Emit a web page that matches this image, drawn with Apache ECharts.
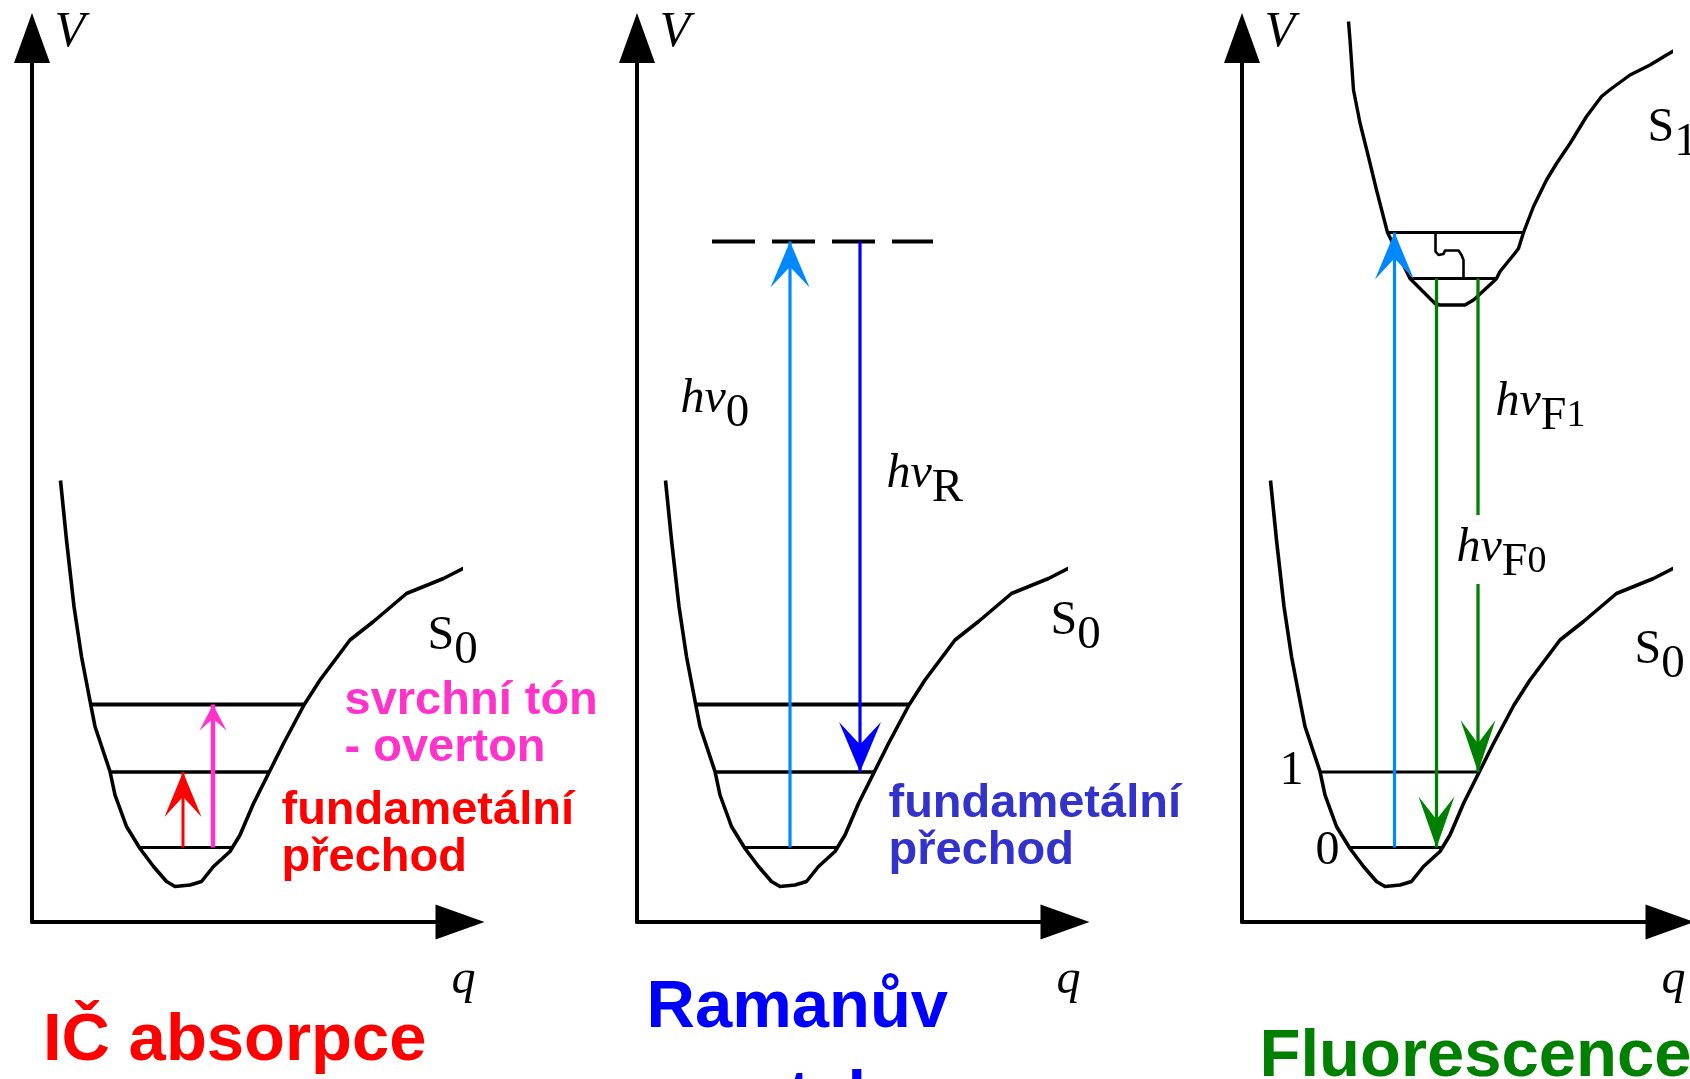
<!DOCTYPE html>
<html>
<head>
<meta charset="utf-8">
<title>IČ absorpce, Ramanův rozptyl, fluorescence</title>
<script src="https://cdn.jsdelivr.net/npm/echarts@6/dist/echarts.min.js"></script>
<style>
  html, body { margin: 0; padding: 0; background: #fff; }
  #chart { width: 1690px; height: 1079px; }
</style>
</head>
<body>
<div id="chart"></div>
<script>
// q = normal coordinate, V = potential energy (same units in all three panels)
const s0Curve = [
  [0.57, 8.83], [0.69, 7.64], [0.84, 6.31], [0.99, 5.31], [1.17, 4.37], [1.26, 3.91],
  [1.56, 3.01], [1.66, 2.54], [1.89, 1.91], [2.16, 1.47], [2.43, 1.11], [2.69, 0.81],
  [2.86, 0.71], [3.16, 0.74], [3.39, 0.81], [3.63, 1.11], [3.96, 1.41], [4.16, 1.74],
  [4.43, 2.37], [4.75, 3.01], [5.03, 3.57], [5.44, 4.34], [5.76, 4.84], [6.36, 5.64],
  [6.83, 6.01], [7.49, 6.57], [8.23, 6.87], [9.09, 7.31]
]
const s0LevelV = [1.49, 3.0, 4.35]
const s0LevelQ = [[2.15, 4.01], [1.56, 4.75], [1.17, 5.44]]

const s1Curve = [
  [2.13, 18.01], [2.16, 17.64], [2.23, 16.64], [2.36, 15.98], [2.53, 15.3], [2.69, 14.64],
  [2.91, 13.79], [3.36, 12.87], [3.86, 12.37], [3.96, 12.34], [4.46, 12.34], [4.63, 12.44],
  [5.03, 12.81], [5.09, 12.87], [5.16, 13.01], [5.43, 13.34], [5.53, 13.47], [5.63, 13.79],
  [5.83, 14.31], [6.09, 14.84], [6.29, 15.17], [6.56, 15.57], [6.89, 16.11], [7.19, 16.51],
  [7.39, 16.67], [7.76, 16.94], [8.16, 17.14], [8.49, 17.34], [8.96, 17.61]
]
const s1LevelV = [12.87, 13.79]
const s1LevelQ = [[3.36, 5.09], [2.91, 5.63]]
// vibrational relaxation inside S1
const relaxPath = [
  [3.87, 13.79], [3.87, 13.41], [3.93, 13.34], [4.03, 13.36], [4.06, 13.43],
  [4.33, 13.43], [4.39, 13.34], [4.43, 13.24], [4.43, 12.87]
]
// virtual level of the Raman scattering
const virtualLevelV = 13.61
const virtualLevelQ = [1.5, 5.92]

// transitions: [q, V from, V to]
const irArrows = [[3.02, 1.49, 3.0], [3.62, 1.49, 4.35]]
const ramanArrows = [[3.06, 1.49, 13.61], [4.46, 13.61, 3.0]]
const fluoArrows = [[3.05, 1.49, 13.79], [3.89, 12.87, 1.49], [4.72, 12.87, 3.0]]
const fluoGap = [null, null, [8.14, 6.76]]   // break in the line for the hνF0 label

const BLACK = '#000'
const SERIF = 'Liberation Serif'
const SANS = 'Liberation Sans'
const SUB = 14

const irStyle = [
  { color: '#ff0000', width: 3, head: [37, 45] },
  { color: '#ff33cc', width: 4.5, head: [27, 26] }
]
const ramanStyle = [
  { color: '#0088ff', width: 3.2, head: [39, 46] },
  { color: '#0000ff', width: 3.2, head: [42, 50] }
]
const fluoStyle = [
  { color: '#0088ff', width: 3.2, head: [39, 47] },
  { color: '#008000', width: 3.3, head: [36, 51] },
  { color: '#008000', width: 3.3, head: [35, 52] }
]

const mathRich = {
  m: { fontFamily: SERIF, fontSize: 48, color: BLACK, padding: [0, 0, SUB, 0] },
  i: { fontFamily: SERIF, fontStyle: 'italic', fontSize: 48, color: BLACK, padding: [0, 0, SUB, 0] },
  s: { fontFamily: SERIF, fontSize: 47, color: BLACK, padding: [SUB, 0, 0, 0] },
  f: { fontFamily: SERIF, fontSize: 46, color: BLACK, padding: [SUB, 0, 0, 0] },
  d: { fontFamily: SERIF, fontSize: 38, color: BLACK, padding: [SUB, 0, 0, 0] }
}
const axisName = { fontFamily: SERIF, fontStyle: 'italic', color: BLACK }
const smallSans = { fontFamily: SANS, fontWeight: 'bold', fontSize: 47, lineHeight: 47 }
const bigSans = { fontFamily: SANS, fontWeight: 'bold', fontSize: 67, lineHeight: 90 }

const notesIR = [
  { q: 0.46, v: 17.78, text: 'V', style: Object.assign({ fontSize: 50 }, axisName) },
  { q: 8.4, v: -1.18, text: 'q', style: Object.assign({ fontSize: 48 }, axisName) },
  { q: 7.92, v: 5.56, text: '{m|S}{s|0}', style: { rich: mathRich } },
  { q: 6.26, v: 4.88, top: true, text: 'svrchní tón\n- overton', style: Object.assign({ color: '#ff33cc' }, smallSans) },
  { q: 5.0, v: 2.68, top: true, text: 'fundametální\npřechod', style: Object.assign({ color: '#ff0000' }, smallSans) },
  { q: 0.23, v: -2.4, text: 'IČ absorpce', style: Object.assign({ color: '#ff0000' }, bigSans) }
]
const notesRaman = [
  { q: 0.46, v: 17.78, text: 'V', style: Object.assign({ fontSize: 50 }, axisName) },
  { q: 8.4, v: -1.18, text: 'q', style: Object.assign({ fontSize: 48 }, axisName) },
  { q: 8.28, v: 5.86, text: '{m|S}{s|0}', style: { rich: mathRich } },
  { q: 0.88, v: 10.3, text: '{i|hν}{s|0}', style: { rich: mathRich } },
  { q: 5.0, v: 8.8, text: '{i|hν}{s|R}', style: { rich: mathRich } },
  { q: 5.04, v: 2.82, top: true, text: 'fundametální\npřechod', style: Object.assign({ color: '#3333cc' }, smallSans) },
  { q: 0.2, v: -0.84, top: true, text: 'Ramanův\nrozptyl', style: Object.assign({ color: '#0000ff' }, bigSans) }
]
const notesFluo = [
  { q: 0.46, v: 17.78, text: 'V', style: Object.assign({ fontSize: 50 }, axisName) },
  { q: 8.4, v: -1.18, text: 'q', style: Object.assign({ fontSize: 48 }, axisName) },
  { q: 8.12, v: 15.72, text: '{m|S}{s|1}', style: { rich: mathRich } },
  { q: 7.86, v: 5.28, text: '{m|S}{s|0}', style: { rich: mathRich } },
  { q: 5.08, v: 10.24, text: '{i|hν}{f|F}{d|1}', style: { rich: mathRich } },
  { q: 4.3, v: 7.32, text: '{i|hν}{f|F}{d|0}', style: { rich: mathRich } },
  { q: 0.76, v: 3.0, text: '1', style: { fontFamily: SERIF, fontSize: 48, color: BLACK } },
  { q: 1.48, v: 1.4, text: '0', style: { fontFamily: SERIF, fontSize: 48, color: BLACK } },
  { q: 0.36, v: -2.72, text: 'Fluorescence', style: Object.assign({ color: '#008000' }, bigSans) }
]

const HEAD = 'path://M50,0L100,100L50,55L0,100Z'
const panels = [0, 1, 2]

function line (p, points, color, width, dash) {
  return {
    type: 'line', xAxisIndex: p, yAxisIndex: p, data: points, symbol: 'none',
    clip: false, silent: true, z: 2, animation: false,
    lineStyle: { color: color, width: width, type: dash || 'solid', cap: 'butt', join: 'round' }
  }
}

function head (p, q, v, up, color, size) {
  return {
    type: 'scatter', xAxisIndex: p, yAxisIndex: p, clip: false, silent: true, z: 4,
    data: [[q, v]], symbol: HEAD, symbolSize: size,
    symbolRotate: up ? 0 : 180, symbolOffset: [0, up ? '50%' : '-50%'],
    itemStyle: { color: color, opacity: 1 }
  }
}

function notes (p, items) {
  return {
    type: 'scatter', xAxisIndex: p, yAxisIndex: p, clip: false, silent: true, z: 5,
    symbolSize: 1, itemStyle: { color: 'rgba(0,0,0,0)', opacity: 1 },
    data: items.map(n => ({
      value: [n.q, n.v],
      label: Object.assign({
        show: true, position: [0, 0], align: 'left',
        verticalAlign: n.top ? 'top' : 'middle', formatter: n.text,
        color: BLACK, opacity: 1, textBorderWidth: 0
      }, n.style)
    }))
  }
}

const series = []

function transitions (p, list, styles, gaps) {
  list.forEach((t, k) => {
    const [q, v0, v1] = t
    const st = styles[k]
    const gap = gaps && gaps[k]
    if (gap) {
      series.push(line(p, [[q, v0], [q, gap[0]]], st.color, st.width))
      series.push(line(p, [[q, gap[1]], [q, v1]], st.color, st.width))
    } else {
      series.push(line(p, [[q, v0], [q, v1]], st.color, st.width))
    }
    series.push(head(p, q, v1, v1 > v0, st.color, st.head))
  })
}

const levelWidth = [3, 3.5, 4]

// IČ absorpce + Ramanův rozptyl: S0 with three levels
;[0, 1].forEach(p => {
  series.push(line(p, s0Curve, BLACK, 3.6))
  s0LevelV.forEach((v, k) => {
    series.push(line(p, [[s0LevelQ[k][0], v], [s0LevelQ[k][1], v]], BLACK, levelWidth[k]))
  })
})
series.push(line(1, [[virtualLevelQ[0], virtualLevelV], [virtualLevelQ[1], virtualLevelV]], BLACK, 4, [43, 17]))

// Fluorescence: S0 (levels 0, 1) and S1
series.push(line(2, s0Curve, BLACK, 3.6))
;[0, 1].forEach(k => {
  series.push(line(2, [[s0LevelQ[k][0], s0LevelV[k]], [s0LevelQ[k][1], s0LevelV[k]]], BLACK, 3.2))
})
series.push(line(2, s1Curve, BLACK, 3.4))
s1LevelV.forEach((v, k) => {
  series.push(line(2, [[s1LevelQ[k][0], v], [s1LevelQ[k][1], v]], BLACK, 3.2))
})
series.push(line(2, relaxPath, BLACK, 2.6))

transitions(0, irArrows, irStyle)
transitions(1, ramanArrows, ramanStyle)
transitions(2, fluoArrows, fluoStyle, fluoGap)

series.push(notes(0, notesIR))
series.push(notes(1, notesRaman))
series.push(notes(2, notesFluo))

function axis (p, max, arrow) {
  return {
    type: 'value', gridIndex: p, min: 0, max: max,
    axisLine: {
      show: true, onZero: false, symbol: ['none', 'triangle'], symbolSize: arrow,
      lineStyle: { color: BLACK, width: 4 }
    },
    axisTick: { show: false },
    axisLabel: { show: false },
    splitLine: { show: false }
  }
}

const option = {
  backgroundColor: '#fff',
  animation: false,
  grid: panels.map(p => ({ left: 32 + p * 605, top: 38, width: 428, height: 884 })),
  xAxis: panels.map(p => axis(p, 8.56, [35, 49])),
  yAxis: panels.map(p => axis(p, 17.68, [36, 50])),
  series: series
}

const chart = echarts.init(document.getElementById('chart'))
chart.setOption(option)
window.addEventListener('resize', () => chart.resize())
</script>
</body>
</html>
